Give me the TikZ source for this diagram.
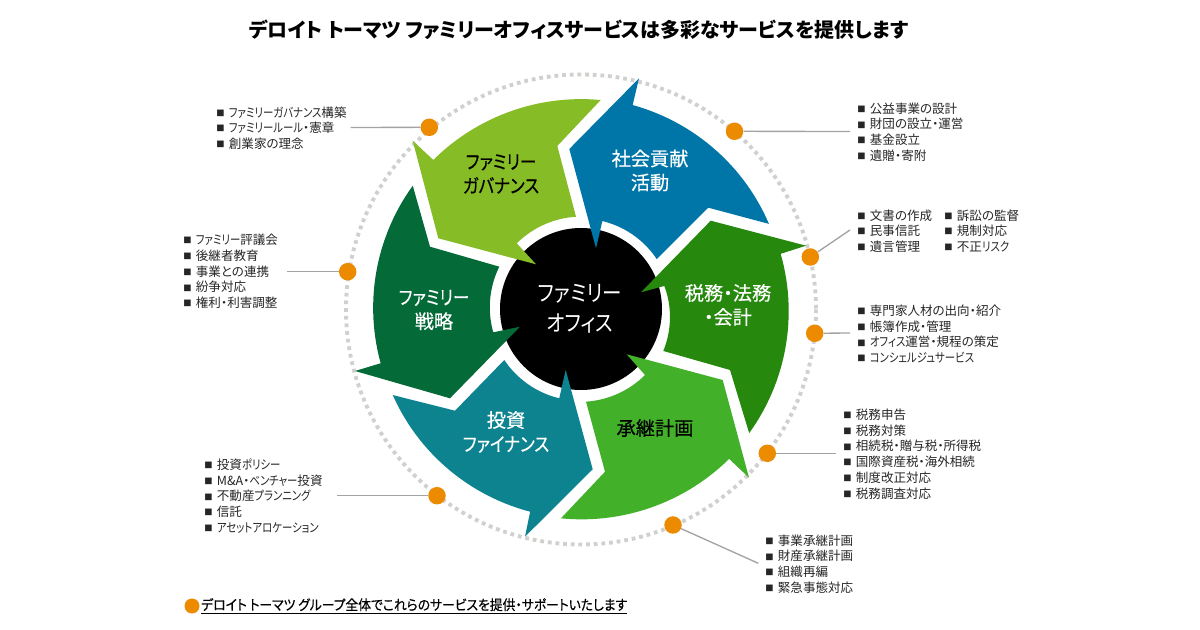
\documentclass[tikz,border=0pt]{standalone}
\usepackage{fontspec}
\setmainfont[RawFeature=+palt]{Noto Sans CJK JP}
\newfontfamily\labf[RawFeature=+palt,FakeBold=0.4]{Noto Sans CJK JP}
\newfontfamily\kanaf[RawFeature=+palt,FakeStretch=0.83]{Noto Sans CJK JP}
\newfontfamily\kanaH[RawFeature=+palt,FakeStretch=0.86]{Noto Sans CJK JP}
\newfontfamily\kanaL[RawFeature=+palt,FakeBold=0.4,FakeStretch=0.86]{Noto Sans CJK JP}
\newfontfamily\footf[RawFeature=+palt,FakeBold=0.4,FakeStretch=0.914]{Noto Sans CJK JP}
\definecolor{cLime}{HTML}{86BC25}
\definecolor{cBlue}{HTML}{0076A8}
\definecolor{cGreen}{HTML}{26890D}
\definecolor{cMid}{HTML}{43B02A}
\definecolor{cTeal}{HTML}{0D8390}
\definecolor{cDark}{HTML}{046A38}
\definecolor{cOrange}{HTML}{ED8B00}
\definecolor{cRing}{HTML}{D0D0CE}
\definecolor{cLine}{HTML}{A3A3A3}
\newcommand{\bl}{\makebox[9.5pt][l]{\raisebox{0.6pt}{\fontsize{6.2pt}{6.2pt}\selectfont ■}}}
\newcommand{\K}[1]{{\kanaf #1}}
\tikzset{
  arcp/.style n args={4}{insert path={-- plot[domain=0:1,samples=30] ({581+(#3+(#4-(#3))*\x)*cos(#1+(#2-(#1))*\x)},{309.2+(#3+(#4-(#3))*\x)*sin(#1+(#2-(#1))*\x)})}},
  arrowshape/.style={fill=#1,draw=none},
  dotmark/.style={circle,fill=cOrange,draw=none,minimum size=17.5*0.75pt,inner sep=0pt},
  lead/.style={draw=cLine,line width=1pt},
  listblock/.style={anchor=west,inner sep=0pt,align=left,text=black!85,font=\fontsize{9.4pt}{11.8pt}\selectfont},
  arrowlabel/.style={inner sep=0pt,align=center,font=\labf\fontsize{14.4pt}{18pt}\selectfont},
}
\begin{document}
\begin{tikzpicture}[x=0.75pt,y=-0.75pt]
\useasboundingbox (0,0) rectangle (1200,630);
\fill[white] (0,0) rectangle (1200,630);
% title
\node[inner sep=0pt,font=\bfseries\fontsize{15pt}{18pt}\selectfont] (title) at (578.5,30) {デロイト トーマツ ファミリーオフィスサービスは多彩なサービスを提供します};
% dotted ring
\coordinate (ringc) at (581,309.5);
\draw[cRing,line width=2.9pt,dash pattern=on 2.8pt off 2.95pt] (ringc) circle[radius=235];
% hub
\node[circle,fill=black,minimum size=162*0.75pt,inner sep=0pt] (hub) at (581,309) {};
% arrows
\path[arrowshape=cLime] (412.7,140.7) [arcp={-134.7}{-84.6}{210}{210.1}] -- (557.3,146) [arcp={-93.1}{-134.3}{92.6}{92}] -- (536,264.3) -- (438.3,238.3) -- cycle;
\path[arrowshape=cBlue] (639,78.3) [arcp={-75.8}{-24.4}{210.6}{206.4}] -- (708.3,207.7) [arcp={-33.5}{-76.4}{90.8}{90.7}] -- (596,248.3) -- (569.3,149) -- cycle;
\path[arrowshape=cGreen] (806,245.7) [arcp={-15.5}{36.4}{207.2}{208.9}] -- (730,370) [arcp={26.9}{-15.6}{92.3}{86.5}] -- (641,292.3) -- (710.7,220.7) -- cycle;
\path[arrowshape=cMid] (749,477.7) [arcp={45.3}{95.5}{210.6}{210.1}] -- (605,471.7) [arcp={86.9}{45.8}{92.6}{91.8}] -- (626.7,354.3) -- (722.7,380) -- cycle;
\path[arrowshape=cTeal] (525,536.7) [arcp={104.1}{155.5}{208.8}{206.9}] -- (455,410.7) [arcp={146.5}{103.7}{92}{91.7}] -- (565.7,370) -- (592.7,469.3) -- cycle;
\path[arrowshape=cDark] (355,371) [arcp={164.9}{216.3}{207.5}{208.7}] -- (430,246.7) [arcp={207.5}{165.2}{92.1}{90.7}] -- (520,326.7) -- (450,398.3) -- cycle;
% arrow labels
\node[arrowlabel,text=black] (lgov) at (501,174) {{\kanaL ファミリー}\\{\kanaL ガバナンス}};
\node[arrowlabel,text=white] (lsoc) at (650,170.5) {社会貢献\\活動};
\node[arrowlabel,text=white] (ltax) at (728,305) {税務・法務\\・会計};
\node[arrowlabel,text=black] (lsuc) at (655,428) {承継計画};
\node[arrowlabel,text=white] (linv) at (506,432) {投資\\{\kanaL ファイナンス}};
\node[arrowlabel,text=white] (lstr) at (434,310) {{\kanaL ファミリー}\\戦略};
\node[inner sep=0pt,align=center,text=white,font=\kanaH\fontsize{17pt}{22.5pt}\selectfont] (lhub) at (580,308.5) {ファミリー\\オフィス};
% dots
\node[dotmark] (dA) at (429.3,127.3) {};
\node[dotmark] (dB) at (734.5,131.3) {};
\node[dotmark] (dC) at (810.3,257) {};
\node[dotmark] (dD) at (814.7,333.3) {};
\node[dotmark] (dE) at (767.3,453.3) {};
\node[dotmark] (dF) at (673,525) {};
\node[dotmark] (dG) at (437,495.7) {};
\node[dotmark] (dH) at (347.7,271.7) {};
% lead ends
\coordinate (eA) at (350.7,127.5);
\coordinate (eB) at (850,131.5);
\coordinate (eC) at (850,230);
\coordinate (eD) at (850,333);
\coordinate (eE) at (836,453.3);
\coordinate (eF) at (758.3,563.3);
\coordinate (eG) at (336.7,495.7);
\coordinate (eH) at (287.3,271.7);
\draw[lead] (dA) -- (eA);
\draw[lead] (dB) -- (eB);
\draw[lead] (dC) -- (eC);
\draw[lead] (dD) -- (eD);
\draw[lead] (dE) -- (eE);
\draw[lead] (dF) -- (eF);
\draw[lead] (dG) -- (eG);
\draw[lead] (dH) -- (eH);
% lists
\node[listblock] (t1) at (216,128) {\bl \K{ファミリーガバナンス}構築\\\bl \K{ファミリールール}・憲章\\\bl 創業家の理念};
\node[listblock] (t2) at (183,271.5) {\bl \K{ファミリー}評議会\\\bl 後継者教育\\\bl 事業との連携\\\bl 紛争対応\\\bl 権利・利害調整};
\node[listblock] (t3) at (857,132) {\bl 公益事業の設計\\\bl 財団の設立・運営\\\bl 基金設立\\\bl 遺贈・寄附};
\node[listblock] (t4) at (857,231) {\bl 文書の作成\\\bl 民事信託\\\bl 遺言管理};
\node[listblock] (t4b) at (944,231) {\bl 訴訟の監督\\\bl 規制対応\\\bl 不正\K{リスク}};
\node[listblock] (t5) at (857,334) {\bl 専門家人材の出向・紹介\\\bl 帳簿作成・管理\\\bl \K{オフィス}運営・規程の策定\\\bl \K{コンシェルジュサービス}};
\node[listblock] (t6) at (843,454) {\bl 税務申告\\\bl 税務対策\\\bl 相続税・贈与税・所得税\\\bl 国際資産税・海外相続\\\bl 制度改正対応\\\bl 税務調査対応};
\node[listblock] (t7) at (765,564) {\bl 事業承継計画\\\bl 財産承継計画\\\bl 組織再編\\\bl 緊急事態対応};
\node[listblock] (t8) at (204,496) {\bl 投資\K{ポリシー}\\\bl M\&A・\K{ベンチャー}投資\\\bl 不動産\K{プランニング}\\\bl 信託\\\bl \K{アセットアロケーション}};
% footer
\node[circle,fill=cOrange,draw=none,minimum size=15*0.75pt,inner sep=0pt] (fdot) at (192,606) {};
\node[anchor=west,inner sep=0pt,font=\footf\fontsize{10.5pt}{12pt}\selectfont] (foot) at (201,606) {\underline{デロイト トーマツ グループ全体でこれらのサービスを提供・サポートいたします}};
\end{tikzpicture}
\end{document}
